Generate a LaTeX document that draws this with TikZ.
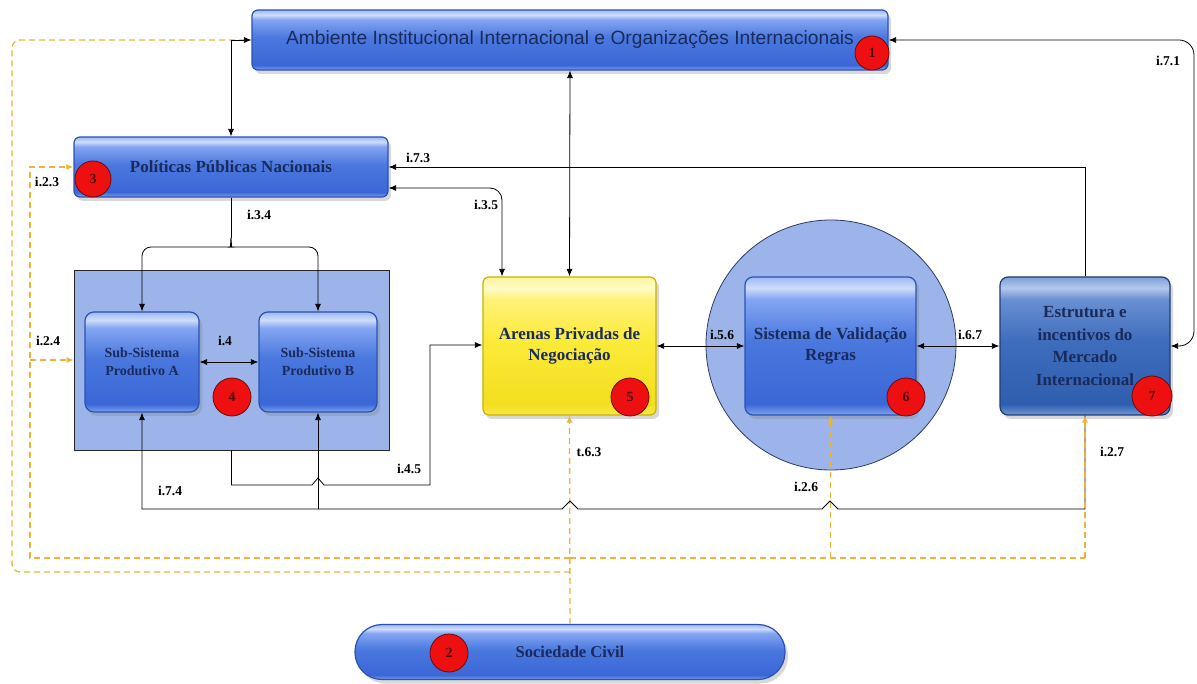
\documentclass[tikz,border=0pt]{standalone}
\usepackage{fontspec}
\setmainfont{Liberation Serif}
\newfontfamily\arialf{Liberation Sans}
\usetikzlibrary{arrows.meta,shadows}
\definecolor{navy}{HTML}{1A2A5C}
\definecolor{gbA}{HTML}{7FA3EE}
\definecolor{gbB}{HTML}{3A67D6}
\definecolor{gbC}{HTML}{4A78DE}
\definecolor{gbD}{HTML}{84A5F2}
\definecolor{gbE}{HTML}{CFDDFB}
\definecolor{gbF}{HTML}{9DB8F3}
\definecolor{gsA}{HTML}{6E96D8}
\definecolor{gsB}{HTML}{2F5EAE}
\definecolor{gsC}{HTML}{3F6DBD}
\definecolor{gsD}{HTML}{6A90D2}
\definecolor{gsE}{HTML}{B3C8EC}
\definecolor{gsF}{HTML}{7F9FD8}
\definecolor{gyA}{HTML}{F8E84A}
\definecolor{gyB}{HTML}{F3DE1E}
\definecolor{gyC}{HTML}{FBEB3A}
\definecolor{gyD}{HTML}{FFF27A}
\definecolor{gyE}{HTML}{FFFBC8}
\definecolor{gyF}{HTML}{FDF59A}
\definecolor{bluedge}{HTML}{2B52B0}
\definecolor{steeledge}{HTML}{1E3C74}
\definecolor{yedge}{HTML}{C9B200}
\definecolor{grpfill}{HTML}{9CB4EA}
\definecolor{circedge}{HTML}{2E3B66}
\definecolor{dashc}{HTML}{F0B23A}
\definecolor{badgefill}{HTML}{EE1010}
\definecolor{badgeedge}{HTML}{6A0A0A}
\definecolor{badgetext}{HTML}{4A0A0A}
\pgfdeclareverticalshading{glossblue}{100bp}{color(0bp)=(gbA); color(25bp)=(gbA); color(29bp)=(gbB); color(52bp)=(gbC); color(67bp)=(gbD); color(71bp)=(gbE); color(75bp)=(gbF); color(100bp)=(gbF)}
\pgfdeclareverticalshading{glosssteel}{100bp}{color(0bp)=(gsA); color(25bp)=(gsA); color(29bp)=(gsB); color(52bp)=(gsC); color(67bp)=(gsD); color(71bp)=(gsE); color(75bp)=(gsF); color(100bp)=(gsF)}
\pgfdeclareverticalshading{glossyellow}{100bp}{color(0bp)=(gyA); color(25bp)=(gyA); color(29bp)=(gyB); color(52bp)=(gyC); color(67bp)=(gyD); color(71bp)=(gyE); color(75bp)=(gyF); color(100bp)=(gyF)}
\begin{document}
\begin{tikzpicture}[x=1pt,y=-1pt,
  every node/.style={inner sep=0pt},
  boxbase/.style={shade, rounded corners=6pt, align=center, text=navy,
    drop shadow={opacity=0.3,shadow xshift=3pt,shadow yshift=-4pt}},
  bluebox/.style={boxbase, shading=glossblue, draw=bluedge, line width=1.2pt},
  steelbox/.style={boxbase, shading=glosssteel, draw=steeledge, line width=1.2pt},
  yellowbox/.style={boxbase, shading=glossyellow, draw=yedge, line width=1.2pt},
  serifbig/.style={font=\bfseries\fontsize{17}{21.5}\selectfont},
  conn/.style={draw=black, line width=0.8pt},
  arr/.style={conn, -{Latex[length=7.5pt,width=6pt]}},
  biarr/.style={conn, {Latex[length=7.5pt,width=6pt]}-{Latex[length=7.5pt,width=6pt]}},
  dline/.style={draw=dashc, line width=1.3pt, dash pattern=on 6pt off 4pt},
  darr/.style={dline, -{Latex[length=7pt,width=6pt]}},
  lbl/.style={font=\bfseries\fontsize{13.5}{15}\selectfont, text=black},
  badge/.style={circle, draw=badgeedge, line width=0.8pt, fill=badgefill,
    minimum size=36, font=\bfseries\fontsize{14}{16}\selectfont, text=badgetext}
]
\useasboundingbox (0,0) rectangle (1197,684);
\fill[white] (0,0) rectangle (1197,684);

% background groups
\node[draw=black!85, fill=grpfill, line width=0.8pt, minimum width=315, minimum height=180] (g4) at (231.5,360) {};
\node[circle, draw=circedge, fill=grpfill, line width=0.8pt, minimum size=250] (c6) at (831,345) {};

% boxes
\node[bluebox, minimum width=636, minimum height=60, font=\arialf\fontsize{19.2}{22}\selectfont] (n1) at (570,40) {Ambiente Institucional Internacional e Organizações Internacionais};
\node[bluebox, serifbig, minimum width=314, minimum height=60] (n3) at (231,167) {Políticas Públicas Nacionais};
\node[bluebox, rounded corners=9pt, minimum width=114, minimum height=100, font=\bfseries\fontsize{14}{18}\selectfont] (nA) at (142,362) {Sub-Sistema\\Produtivo A};
\node[bluebox, rounded corners=9pt, minimum width=118, minimum height=100, font=\bfseries\fontsize{14}{18}\selectfont] (nB) at (318,362) {Sub-Sistema\\Produtivo B};
\node[yellowbox, serifbig, minimum width=173, minimum height=138] (n5) at (569.5,346) {Arenas Privadas de\\Negociação};
\node[bluebox, serifbig, rounded corners=8pt, minimum width=171, minimum height=138] (n6) at (830.5,346) {Sistema de Validação\\Regras};
\node[steelbox, rounded corners=8pt, minimum width=170, minimum height=138, font=\bfseries\fontsize{17}{22.5}\selectfont] (n7) at (1085,346) {Estrutura e\\incentivos do\\Mercado\\Internacional};
\node[bluebox, rounded corners=27pt, minimum width=430, minimum height=55, font=\bfseries\fontsize{16.5}{18}\selectfont] (n2) at (570,652) {Sociedade Civil};

% dashed (Sociedade Civil)
\draw[darr] (n2.north) -- (n5.south);
\draw[darr, rounded corners=8pt] (570,572) -| (12,40) -- (n1.west);
\draw[dline] (570,558) -- (1085,558);
\draw[darr] (n6.south |- 0,558) -- (n6.south);
\draw[darr] (570,558) -| (30,167) -- (n3.west);
\draw[darr] (30,360) -- (g4.west);

% black connectors
\draw[biarr] (n1.west) -| (n3.north);
\draw[biarr] (n1.south) -- (n5.north);
\draw[arr] (n7.north) |- (n3.east);
\draw[biarr, rounded corners=12pt] (n3.east |- 0,188) -| (n5.north -| 502,0);
\draw[conn] (n3.south) -- (231,238);
\draw[arr, rounded corners=9pt] (231,238) .. controls (231,245) and (229,247) .. (223,247) -| (nA.north);
\draw[arr, rounded corners=9pt] (231,238) .. controls (231,245) and (233,247) .. (239,247) -| (nB.north);
\draw[biarr] (nA.east) -- (nB.west);
\draw[arr] (g4.south) |- (312,485) -- (318,478) -- (324,485) -- (430,485) -- (430,345) -- (n5.west |- 0,345);
\draw[arr] (n7.south) |- (838,509) -- (830,501) -- (822,509) -- (578,509) -- (570,501) -- (562,509) -| (nA.south);
\draw[arr] (318,509) -- (nB.south);
\draw[biarr, rounded corners=15pt] (n7.east) -- (1194,346) -- (1194,40) -- (n1.east);
\draw[biarr] (n5.east) -- (n6.west);
\draw[biarr] (n6.east) -- (n7.west);
\draw[darr] (1085,558) -- (n7.south);

% labels
\node[lbl] (l73) at (418,158) {i.7.3};
\node[lbl] (l35) at (486,205) {i.3.5};
\node[lbl] (l34) at (259,215) {i.3.4};
\node[lbl] (l23) at (47,182) {i.2.3};
\node[lbl] (l24) at (48,341) {i.2.4};
\node[lbl] (l4) at (225,341) {i.4};
\node[lbl] (l45) at (409,469) {i.4.5};
\node[lbl] (l74) at (170,491) {i.7.4};
\node[lbl] (l63) at (589,452) {t.6.3};
\node[lbl] (l56) at (722,335) {i.5.6};
\node[lbl] (l26) at (806,487) {i.2.6};
\node[lbl] (l67) at (970,335) {i.6.7};
\node[lbl] (l27) at (1112,452) {i.2.7};
\node[lbl] (l71) at (1168,61) {i.7.1};

% badges
\node[badge, minimum size=34] (b1) at (872,53) {1};
\node[badge, minimum size=38] (b2) at (449,653) {2};
\node[badge] (b3) at (93,179) {3};
\node[badge, minimum size=38] (b4) at (232,397) {4};
\node[badge, minimum size=38] (b5) at (630,397) {5};
\node[badge, minimum size=38] (b6) at (906,397) {6};
\node[badge, minimum size=40] (b7) at (1152,396) {7};
\end{tikzpicture}
\end{document}
